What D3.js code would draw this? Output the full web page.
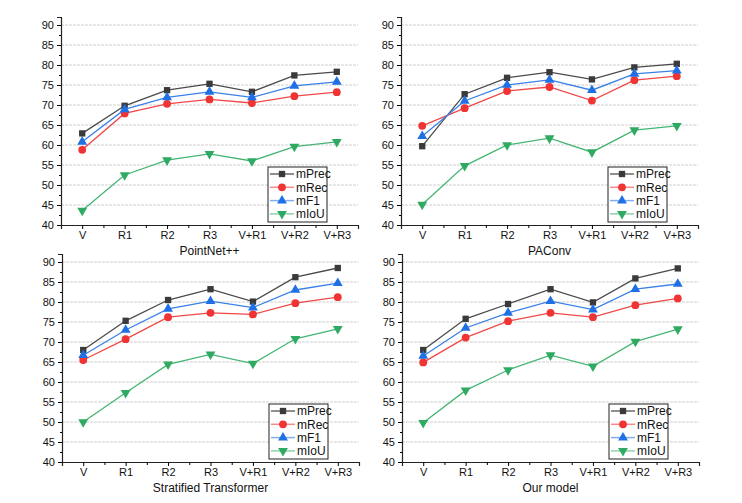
<!DOCTYPE html>
<html>
<head>
<meta charset="utf-8">
<script src="https://cdn.jsdelivr.net/npm/d3@7"></script>
<style>
  body { margin: 0; background: #fff; }
  text { font-family: Arial, "Liberation Sans", sans-serif; fill: #111; }
</style>
</head>
<body>
<script>
var categories = ["V", "R1", "R2", "R3", "V+R1", "V+R2", "V+R3"];
var metrics = ["mPrec", "mRec", "mF1", "mIoU"];
var yTicks = [40, 45, 50, 55, 60, 65, 70, 75, 80, 85, 90];

// PointNet++
var pointnetPrec = [62.9, 69.8, 73.7, 75.3, 73.3, 77.4, 78.3];
var pointnetRec  = [58.8, 67.9, 70.3, 71.4, 70.5, 72.2, 73.2];
var pointnetF1   = [60.8, 68.9, 71.9, 73.3, 71.9, 74.8, 75.8];
var pointnetIoU  = [43.6, 52.5, 56.2, 57.8, 56.0, 59.6, 60.8];

// PAConv
var paconvPrec = [59.7, 72.7, 76.8, 78.2, 76.4, 79.4, 80.3];
var paconvRec  = [64.8, 69.2, 73.5, 74.5, 71.1, 76.2, 77.2];
var paconvF1   = [62.2, 71.0, 75.0, 76.3, 73.7, 77.8, 78.6];
var paconvIoU  = [45.1, 54.8, 60.0, 61.7, 58.2, 63.7, 64.8];

// Stratified Transformer
var stratPrec = [68.0, 75.3, 80.5, 83.2, 80.1, 86.2, 88.5];
var stratRec  = [65.5, 70.7, 76.2, 77.3, 76.9, 79.7, 81.2];
var stratF1   = [66.7, 73.0, 78.3, 80.2, 78.6, 83.0, 84.7];
var stratIoU  = [50.0, 57.3, 64.4, 66.9, 64.6, 70.8, 73.3];

// Our model
var oursPrec = [68.0, 75.8, 79.5, 83.2, 79.9, 85.9, 88.4];
var oursRec  = [64.9, 71.1, 75.2, 77.3, 76.2, 79.2, 80.9];
var oursF1   = [66.5, 73.5, 77.3, 80.2, 78.1, 83.2, 84.5];
var oursIoU  = [49.8, 57.9, 63.0, 66.7, 63.9, 70.1, 73.2];

var panels = [
  { title: "PointNet++", left: 61, bottom: 225, series: [pointnetPrec, pointnetRec, pointnetF1, pointnetIoU] },
  { title: "PAConv", left: 401, bottom: 225, series: [paconvPrec, paconvRec, paconvF1, paconvIoU] },
  { title: "Stratified Transformer", left: 62, bottom: 462, series: [stratPrec, stratRec, stratF1, stratIoU] },
  { title: "Our model", left: 402, bottom: 462, series: [oursPrec, oursRec, oursF1, oursIoU] }
];

var markerColor = ["#3a3a3a", "#f03434", "#1f6fe5", "#2faa62"];
var lineColor = ["#4a4a4a", "#f04848", "#3a80e8", "#44b574"];
var legendLine = ["#6a6a6a", "#f78a8a", "#82aef0", "#8fd3aa"];
var symbols = [d3.symbolSquare, d3.symbolCircle, d3.symbolTriangle, d3.symbolTriangle];
var symSize = [40, 48, 42, 42];
var symRot = [0, 0, 0, 180];

var width = 297, height = 208;

var svg = d3.select("body").append("svg")
  .attr("width", 742)
  .attr("height", 503);

panels.forEach(function (p) {
  var g = svg.append("g")
    .attr("transform", "translate(" + p.left + "," + (p.bottom - height) + ")");

  var x = d3.scaleLinear().domain([-0.5, 6.5]).range([0, width]);
  var y = d3.scaleLinear().domain([40, 92]).range([height, 0]);

  // grid
  g.selectAll(".grid")
    .data(yTicks.slice(1))
    .enter().append("line")
    .attr("x1", 0).attr("x2", width)
    .attr("y1", function (d) { return y(d); })
    .attr("y2", function (d) { return y(d); })
    .attr("stroke", "#cfcfcf")
    .attr("stroke-width", 1)
    .attr("stroke-dasharray", "3,1");

  // y axis
  var yAxis = g.append("g")
    .call(d3.axisLeft(y).tickValues(yTicks).tickSize(4).tickPadding(3));
  yAxis.selectAll("text").style("font-size", "11px");
  yAxis.append("g")
    .call(d3.axisLeft(y).tickValues(d3.range(42.5, 92, 5)).tickSize(2).tickFormat(""))
    .select(".domain").remove();

  // x axis
  var xAxis = g.append("g")
    .attr("transform", "translate(0," + height + ")")
    .call(d3.axisBottom(x).tickValues(d3.range(0, 7)).tickSize(4).tickPadding(2)
      .tickFormat(function (d) { return categories[d]; }));
  xAxis.selectAll("text").style("font-size", "11px");
  xAxis.append("g")
    .call(d3.axisBottom(x).tickValues(d3.range(0.5, 6, 1)).tickSize(3).tickFormat(""))
    .select(".domain").remove();
  g.selectAll(".domain").attr("stroke", "#222").attr("stroke-width", 1.2);

  // lines and markers
  p.series.forEach(function (vals, k) {
    var line = d3.line()
      .x(function (d, i) { return x(i); })
      .y(function (d) { return y(d); });
    g.append("path")
      .datum(vals)
      .attr("fill", "none")
      .attr("stroke", lineColor[k])
      .attr("stroke-width", 1.3)
      .attr("d", line);
    g.selectAll(".m" + k)
      .data(vals)
      .enter().append("path")
      .attr("d", d3.symbol().type(symbols[k]).size(symSize[k]))
      .attr("transform", function (d, i) {
        return "translate(" + x(i) + "," + y(d) + ") rotate(" + symRot[k] + ")";
      })
      .attr("fill", markerColor[k]);
  });

  // legend
  var lg = g.append("g")
    .attr("transform", "translate(" + (width - 90) + "," + (height - 58) + ")");
  lg.append("rect")
    .attr("width", 59).attr("height", 55)
    .attr("fill", "#fff")
    .attr("stroke", "#222")
    .attr("stroke-width", 1);
  metrics.forEach(function (m, k) {
    var yy = 7 + k * 13.3;
    lg.append("line")
      .attr("x1", 2).attr("x2", 26)
      .attr("y1", yy).attr("y2", yy)
      .attr("stroke", legendLine[k])
      .attr("stroke-width", 1.5);
    lg.append("path")
      .attr("d", d3.symbol().type(symbols[k]).size(symSize[k]))
      .attr("transform", "translate(14," + yy + ") rotate(" + symRot[k] + ")")
      .attr("fill", markerColor[k]);
    lg.append("text")
      .attr("x", 28).attr("y", yy)
      .attr("dy", "0.36em")
      .style("font-size", "12px")
      .text(m);
  });

  // title below
  svg.append("text")
    .attr("x", p.left + width / 2)
    .attr("y", p.bottom + 26)
    .attr("dy", "0.36em")
    .attr("text-anchor", "middle")
    .style("font-size", "12px")
    .text(p.title);
});
</script>
</body>
</html>
